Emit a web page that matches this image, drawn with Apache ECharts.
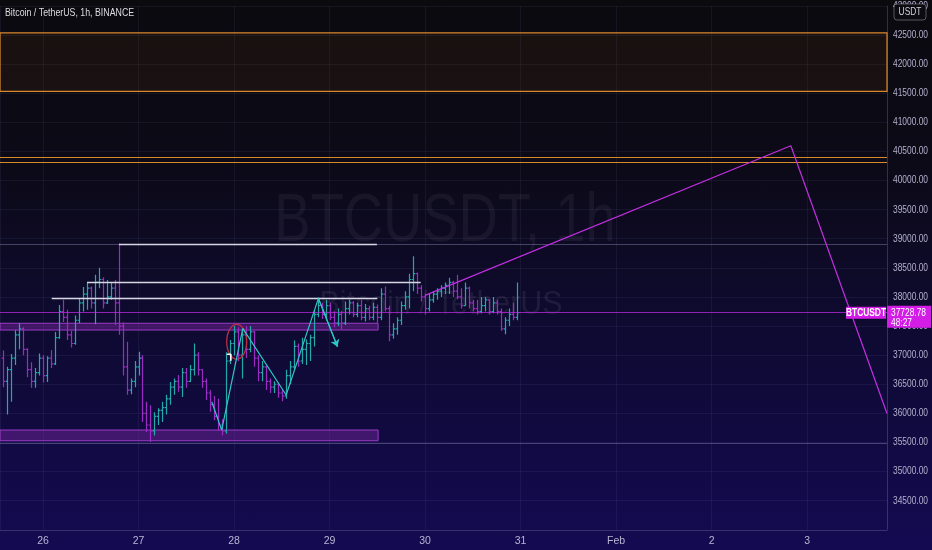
<!DOCTYPE html>
<html><head><meta charset="utf-8">
<script src="https://cdn.jsdelivr.net/npm/echarts@6/dist/echarts.min.js"></script>
<style>
html,body{margin:0;padding:0;width:932px;height:550px;overflow:hidden;
background:linear-gradient(180deg,#0b0a0f 0%,#0c0a17 30%,#0f0a33 62%,#140a52 100%);}
#c{width:932px;height:550px;}
</style>
</head><body><div id="c"></div><script>
const START = new Date(2022, 0, 26, 0, 0, 0).getTime();
const HOUR = 3600000;
const firstBarHour = -10;
// hourly bars: [open, high, low, close]
const bars = [
[36950,37080,36450,36550],[36550,36800,35980,36750],[36750,37020,36200,36950],[36950,37430,36830,37350],
[37350,37550,37100,37450],[37450,37480,37000,37100],[37100,37120,36620,36750],[36750,36880,36440,36550],
[36550,36780,36440,36700],[36700,37030,36650,36950],[36950,37000,36530,36650],[36650,36980,36540,36950],
[36950,37090,36780,36850],[36850,37400,36830,37300],[37300,37860,37280,37750],[37750,37950,37570,37650],
[37650,37780,37260,37350],[37350,37420,37130,37200],[37200,37680,37180,37600],[37600,37980,37550,37900],
[37900,38170,37750,38050],[38050,38240,37780,38150],[38150,38180,37800,37900],[37900,38380,37530,38250],
[38250,38500,38150,38300],[38300,38340,37800,37900],[37900,38290,37880,38000],[38000,38250,37950,38150],
[38150,38290,37520,37900],[37900,38920,37350,37500],[37500,37560,36650,36800],[36800,37230,36320,36400],
[36400,36600,36330,36550],[36550,36900,36450,36800],[36800,37060,36650,36950],[36950,37000,35850,36000],
[36000,36200,35680,35800],[35800,36140,35510,35700],[35700,36020,35620,35950],[35950,36090,35800,36050],
[36050,36200,35850,36100],[36100,36320,35980,36250],[36250,36540,36150,36450],[36450,36600,36320,36550],
[36550,36660,36370,36450],[36450,36780,36280,36700],[36700,36780,36440,36550],[36550,36830,36540,36750],
[36750,37200,36650,37000],[37000,37050,36650,36750],[36750,36760,36440,36550],[36550,36600,36230,36350],
[36350,36400,36030,36150],[36150,36300,35880,35950],[35950,36250,35700,35800],[35800,35900,35620,35700],
[35700,37050,35650,36900],[36900,37260,36850,37200],[37200,37500,37000,37400],[37400,37480,36900,37000],
[37000,37450,36600,37350],[37350,37500,36950,37100],[37100,37500,37050,37400],[37400,37420,36800,36950],
[36950,37000,36550,36700],[36700,36900,36550,36800],[36800,36820,36400,36550],[36550,36600,36350,36450],
[36450,36550,36350,36500],[36500,36530,36270,36350],[36350,36400,36210,36300],[36300,36750,36250,36650],
[36650,36900,36500,36800],[36800,37250,36750,37150],[37150,37200,36800,36900],[36900,37300,36850,37100],
[37100,37270,36830,37200],[37200,37350,36900,37300],[37300,37780,37150,37700],[37700,37990,37650,37850],
[37850,37900,37620,37700],[37700,37950,37600,37850],[37850,37900,37600,37650],[37650,37750,37480,37550],
[37550,37800,37500,37700],[37700,37760,37450,37550],[37550,37920,37520,37800],[37800,37950,37700,37900],
[37900,37930,37650,37700],[37700,37900,37650,37850],[37850,37950,37600,37650],[37650,37880,37580,37800],
[37800,37850,37600,37650],[37650,37900,37600,37820],[37820,37870,37550,37650],[37650,38150,37600,38050],
[38050,38180,37750,37800],[37800,37850,37240,37350],[37350,37550,37280,37450],[37450,37650,37350,37600],
[37600,37920,37520,37850],[37850,38100,37780,38000],[38000,38400,37800,38300],[38300,38700,38100,38400],
[38400,38420,38050,38150],[38150,38200,37920,38000],[38000,38050,37700,37800],[37800,38050,37750,37950],
[37950,38100,37900,38050],[38050,38150,37950,38100],[38100,38200,38000,38150],[38150,38250,38050,38200],
[38200,38330,38050,38250],[38250,38280,38000,38100],[38100,38380,37960,38000],[38000,38150,37800,37850],
[37850,38250,37850,38150],[38150,38180,37800,37900],[37900,37950,37750,37800],[37800,37950,37700,37750],
[37750,38000,37720,37850],[37850,38000,37750,37950],[37950,37960,37700,37750],[37750,38000,37720,37900],
[37900,37950,37700,37750],[37750,37800,37420,37450],[37450,37650,37360,37600],[37600,37800,37500,37700],
[37700,37900,37600,37650],[37650,38250,37600,37728.78]
];
const xRangeHours = [-10.8, 212.06];
const priceRange = [34000, 43000];
const priceStep = 500;
const priceTicks = [34500, 35000, 35500, 36000, 36500, 37000, 37500, 38000, 38500, 39000, 39500,
  40000, 40500, 41000, 41500, 42000, 42500, 43000];
const monthNames = ['Jan','Feb','Mar','Apr','May','Jun','Jul','Aug','Sep','Oct','Nov','Dec'];
const lastPrice = 37728.78;
const countdown = '48:27';
const symbolName = 'BTCUSDT';
const titleText = 'Bitcoin / TetherUS, 1h, BINANCE';
// drawings (hour offset from Jan 26 00:00, price)
const orangeBox = [42535, 41530];
const orangeLines = [40400, 40315];
const grayLines = [38910, 35495];
const whiteSegments = [[19.1, 83.9, 38910], [11.06, 94.9, 38245], [2.19, 84.0, 37970]];
const purpleZones = [[-10.8, 84.2, 37548, 37432], [-10.8, 84.2, 35714, 35530]];
const zigzag = [[42.4, 36200], [44.9, 35714], [50.2, 37461], [61.1, 36315], [69.2, 37976], [74.0, 37145]];
const circleBox = [46.16, 51.18, 37530, 36930];
const bracket = [[46.2, 37015], [47.2, 37015], [47.2, 36905]];
const projection = [[96.0, 38028], [187.9, 40598], [212.06, 35999]];

const UP = '#22a9a9', DOWN = '#9c2bc4';
const MAG = '#d31ce6';
const FONT = '"Liberation Sans", Arial, sans-serif';
const CONDENSE = 0.8;
const t = h => START + h * HOUR;

const ohlcData = bars.map((b, i) => [t(firstBarHour + i), b[0], b[1], b[2], b[3]]);

function renderOHLC(params, api) {
  const x = api.value(0);
  const o = api.value(1), hi = api.value(2), lo = api.value(3), c = api.value(4);
  const pH = api.coord([x, hi]), pL = api.coord([x, lo]), pO = api.coord([x, o]), pC = api.coord([x, c]);
  const w = Math.max(1.2, api.size([HOUR, 0])[0] * 0.45);
  const col = c >= o ? UP : DOWN;
  const px = Math.round(pH[0]) + 0.5;
  const style = { stroke: col, lineWidth: 1.2 };
  return { type: 'group', children: [
    { type: 'line', shape: { x1: px, y1: pH[1], x2: px, y2: pL[1] }, style },
    { type: 'line', shape: { x1: px - w, y1: pO[1], x2: px, y2: pO[1] }, style },
    { type: 'line', shape: { x1: px, y1: pC[1], x2: px + w, y2: pC[1] }, style }
  ]};
}
function renderEllipse(params, api) {
  const a = api.coord([api.value(0), api.value(2)]);
  const b = api.coord([api.value(1), api.value(3)]);
  return { type: 'ellipse', shape: { cx: (a[0] + b[0]) / 2, cy: (a[1] + b[1]) / 2,
    rx: Math.abs(b[0] - a[0]) / 2, ry: Math.abs(b[1] - a[1]) / 2 },
    style: { fill: 'none', stroke: '#b8303f', lineWidth: 1.3 } };
}

const chart = echarts.init(document.getElementById('c'), null, { renderer: 'canvas' });
const gridLineColor = 'rgba(130,130,185,0.10)';
const axisColor = 'rgba(200,200,230,0.16)';

const markLines = [];
orangeLines.forEach(v => markLines.push({ yAxis: v, lineStyle: { color: '#d9892c', width: 1.2, type: 'solid' } }));
grayLines.forEach(v => markLines.push({ yAxis: v, lineStyle: { color: 'rgba(165,155,215,0.38)', width: 1, type: 'solid' } }));
markLines.push({ yAxis: lastPrice, lineStyle: { color: 'rgba(190,40,225,0.75)', width: 1, type: 'solid' } });
whiteSegments.forEach(s => markLines.push([
  { coord: [t(s[0]), s[2]], lineStyle: { color: '#d6d6e4', width: 1.4, type: 'solid' } },
  { coord: [t(s[1]), s[2]] }
]));

const markAreas = [
  [{ coord: [t(xRangeHours[0]), orangeBox[0]], itemStyle: { color: 'rgba(110,58,12,0.15)', borderColor: '#d9892c', borderWidth: 1.2 } },
   { coord: [t(xRangeHours[1]), orangeBox[1]] }]
];
purpleZones.forEach(z => markAreas.push([
  { coord: [t(z[0]), z[2]], itemStyle: { color: 'rgba(125,38,165,0.45)', borderColor: '#9a3cc6', borderWidth: 1 } },
  { coord: [t(z[1]), z[3]] }
]));

chart.setOption({
  backgroundColor: 'transparent',
  animation: false,
  grid: { left: 0, right: 45, top: 5.9, bottom: 20.2, outerBoundsMode: 'none', containLabel: false },
  xAxis: {
    type: 'time', min: t(xRangeHours[0]), max: t(xRangeHours[1]),
    minInterval: 24 * HOUR, maxInterval: 24 * HOUR,
    axisLine: { show: true, lineStyle: { color: axisColor } },
    axisTick: { show: false },
    splitLine: { show: true, lineStyle: { color: gridLineColor } },
    axisLabel: { color: '#b9b5d2', fontSize: 10.5, fontFamily: FONT, margin: 6,
      showMinLabel: false, showMaxLabel: false,
      formatter: v => { const d = new Date(v); return d.getDate() === 1 ? monthNames[d.getMonth()] : String(d.getDate()); } }
  },
  yAxis: {
    type: 'value', position: 'right', min: priceRange[0], max: priceRange[1], interval: priceStep,
    axisLine: { show: true, lineStyle: { color: axisColor } },
    axisTick: { show: false },
    splitLine: { show: true, lineStyle: { color: gridLineColor } },
    axisLabel: { show: false }
  },
  series: [
    { type: 'custom', name: 'zones', data: [], renderItem: () => null, z: 1,
      markArea: { silent: true, data: markAreas } },
    { type: 'custom', name: 'BTCUSDT', renderItem: renderOHLC, data: ohlcData, clip: true, z: 3,
      encode: { x: 0, y: [1, 2, 3, 4] } },
    { type: 'custom', name: 'lines', data: [], renderItem: () => null, z: 4,
      markLine: { silent: true, symbol: 'none', label: { show: false }, data: markLines } },
    { type: 'line', name: 'zigzag', data: zigzag.map(p => [t(p[0]), p[1]]), symbol: 'none', z: 6,
      lineStyle: { color: '#2cc6c6', width: 1.2 },
      markLine: { silent: true, symbol: ['none', 'arrow'], symbolSize: 7, label: { show: false },
        lineStyle: { color: '#2cc6c6', width: 1.2, type: 'solid' },
        data: [[{ coord: [t(zigzag[4][0]), zigzag[4][1]] }, { coord: [t(zigzag[5][0]), zigzag[5][1]] }]] } },
    { type: 'custom', name: 'circle', renderItem: renderEllipse, z: 6,
      data: [[t(circleBox[0]), t(circleBox[1]), circleBox[2], circleBox[3]]], encode: { x: [0, 1], y: [2, 3] } },
    { type: 'line', name: 'bracket', data: bracket.map(p => [t(p[0]), p[1]]), symbol: 'none', z: 6,
      lineStyle: { color: '#ffffff', width: 1.6 } },
    { type: 'line', name: 'projection', data: projection.map(p => [t(p[0]), p[1]]), symbol: 'none', z: 6,
      lineStyle: { color: '#c22fe0', width: 1.2 } }
  ]
});

const toPx = (h, p) => chart.convertToPixel({ gridIndex: 0 }, [t(h), p]);
const py = toPx(100, lastPrice)[1];
const axisX = toPx(xRangeHours[1], lastPrice)[0];
const g = [
  { type: 'text', x: 445, y: 222, scaleX: CONDENSE, silent: true, z: 0,
    style: { text: 'BTCUSDT, 1h', x: 0, y: 0, align: 'center', verticalAlign: 'middle',
      font: '68px ' + FONT, fill: 'rgba(255,255,255,0.05)' } },
  { type: 'text', x: 441, y: 305, scaleX: 0.92, silent: true, z: 0,
    style: { text: 'Bitcoin / TetherUS', x: 0, y: 0, align: 'center', verticalAlign: 'middle',
      font: '33px ' + FONT, fill: 'rgba(255,255,255,0.07)' } },
  { type: 'text', x: 5, y: 13, scaleX: CONDENSE, silent: true, z: 10,
    style: { text: titleText, x: 0, y: 0, verticalAlign: 'middle', font: '11px ' + FONT, fill: '#dcdce2' } }
];
priceTicks.forEach(v => {
  g.push({ type: 'text', x: axisX + 6, y: toPx(0, v)[1], scaleX: CONDENSE, silent: true, z: 5,
    style: { text: v.toFixed(2), x: 0, y: 0, verticalAlign: 'middle', font: '10.5px ' + FONT, fill: '#b3afcc' } });
});
g.push(
  { type: 'rect', silent: true, z: 10, shape: { x: 894, y: 4, width: 32, height: 16, r: 3 },
    style: { fill: '#0c0b11', stroke: 'rgba(200,200,220,0.4)', lineWidth: 1 } },
  { type: 'text', x: 910, y: 12.5, scaleX: CONDENSE, silent: true, z: 11,
    style: { text: 'USDT', x: 0, y: 0, align: 'center', verticalAlign: 'middle', font: '10.5px ' + FONT, fill: '#d0d0d8' } },
  { type: 'rect', silent: true, z: 10, shape: { x: axisX, y: py - 7, width: 44, height: 22 }, style: { fill: MAG } },
  { type: 'text', x: axisX + 4, y: py, scaleX: CONDENSE, silent: true, z: 11,
    style: { text: lastPrice.toFixed(2), x: 0, y: 0, verticalAlign: 'middle', font: '10.5px ' + FONT, fill: '#ffffff' } },
  { type: 'text', x: axisX + 4, y: py + 10, scaleX: CONDENSE, silent: true, z: 11,
    style: { text: countdown, x: 0, y: 0, verticalAlign: 'middle', font: '10.5px ' + FONT, fill: '#ffffff' } },
  { type: 'rect', silent: true, z: 10, shape: { x: axisX - 41, y: py - 6, width: 40, height: 12 }, style: { fill: MAG } },
  { type: 'text', x: axisX - 21, y: py, scaleX: CONDENSE, silent: true, z: 11,
    style: { text: symbolName, x: 0, y: 0, align: 'center', verticalAlign: 'middle', font: 'bold 10.5px ' + FONT, fill: '#ffffff' } }
);
chart.setOption({ graphic: g });
</script></body></html>
